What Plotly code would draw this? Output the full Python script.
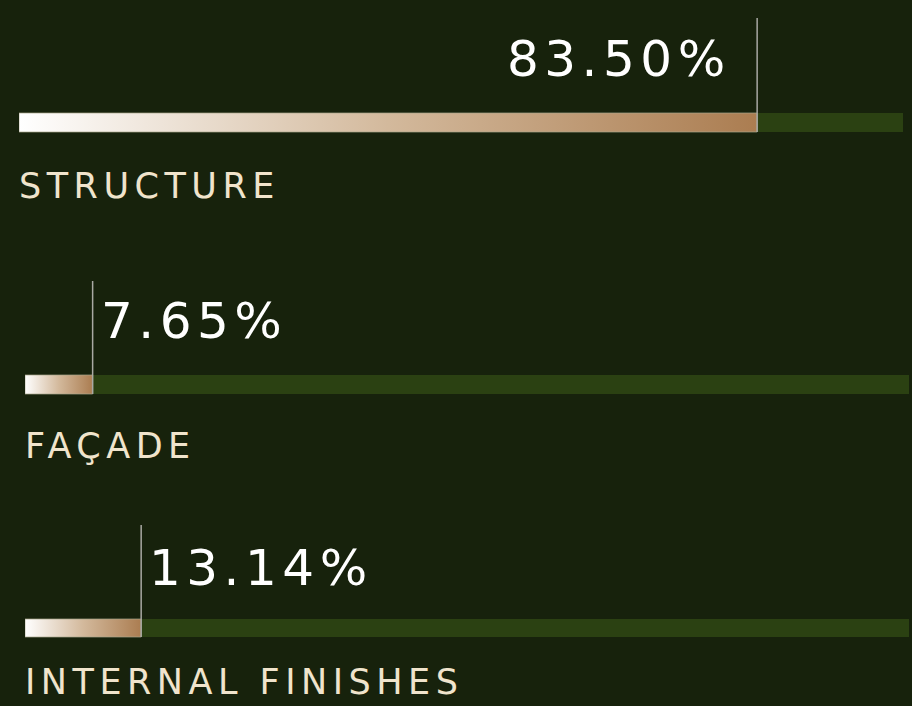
import plotly.graph_objects as go

categories = ["STRUCTURE", "FAÇADE", "INTERNAL FINISHES"]
values = [83.50, 7.65, 13.14]
value_labels = ["83.50%", "7.65%", "13.14%"]
max_value = 100

BG = "#17220c"
TRACK = "#2b4112"
GRAD = [[0, "#ffffff"], [0.5, "#d3b99c"], [1, "#ab7d51"]]
LINE = "#a9a9a4"
CREAM = "#f0e4cc"
FONT = "DejaVu Sans"
SPACING = 5.5  # px letter spacing applied to annotation text

W, H = 912, 706
# layout of rows (pixel positions)
rows = [
    dict(n="", x0=19, x1=903, bar=(113, 132), line_top=18, val_y=59, val_side="right", lab_y=186),
    dict(n="2", x0=25, x1=909, bar=(375, 394), line_top=281, val_y=321, val_side="left", lab_y=446),
    dict(n="3", x0=25, x1=909, bar=(619, 637), line_top=525, val_y=568, val_side="left", lab_y=682),
]

fig = go.Figure()
annotations = []
layout_axes = {}
for cat, v, lab, r in zip(categories, values, value_labels, rows):
    xa, ya = "x" + r["n"], "y" + r["n"]
    t, b = r["bar"]
    fig.add_trace(go.Scatter(x=[0, max_value, max_value, 0, 0], y=[t, t, b, b, t],
                             mode="lines", fill="toself", fillcolor=TRACK,
                             line=dict(width=0), xaxis=xa, yaxis=ya,
                             hoverinfo="skip", showlegend=False))
    fig.add_trace(go.Scatter(x=[0, v, v, 0, 0], y=[t, t, b, b, t],
                             mode="lines", fill="toself",
                             fillgradient=dict(type="horizontal", colorscale=GRAD),
                             line=dict(width=1, color="rgba(170,165,140,0.7)"),
                             xaxis=xa, yaxis=ya,
                             hoverinfo="skip", showlegend=False))
    fig.add_trace(go.Scatter(x=[v, v], y=[r["line_top"], b], mode="lines",
                             line=dict(color=LINE, width=1.5),
                             xaxis=xa, yaxis=ya,
                             hoverinfo="skip", showlegend=False))
    if r["val_side"] == "right":
        annotations.append(dict(x=v, y=r["val_y"], xref=xa, yref=ya, text=lab,
                                xanchor="right", align="right", yanchor="middle",
                                xshift=-30 + SPACING,
                                showarrow=False, font=dict(family=FONT, size=50, color="#ffffff")))
    else:
        annotations.append(dict(x=v, y=r["val_y"], xref=xa, yref=ya, text=lab,
                                xanchor="left", align="left", yanchor="middle", xshift=6,
                                showarrow=False, font=dict(family=FONT, size=50, color="#ffffff")))
    annotations.append(dict(x=0, y=r["lab_y"], xref=xa, yref=ya, text=cat,
                            xanchor="left", align="left", yanchor="middle", xshift=-2,
                            showarrow=False, font=dict(family=FONT, size=35, color=CREAM)))
    xname = "xaxis" + r["n"]
    yname = "yaxis" + r["n"]
    layout_axes[xname] = dict(domain=[r["x0"] / W, r["x1"] / W], range=[0, max_value],
                              anchor=ya, visible=False, fixedrange=True)
    layout_axes[yname] = dict(domain=[0, 1], range=[H, 0], anchor=xa,
                              visible=False, fixedrange=True)

fig.update_layout(
    width=W, height=H,
    margin=dict(l=0, r=0, t=0, b=0),
    paper_bgcolor=BG, plot_bgcolor="rgba(0,0,0,0)",
    annotations=annotations,
    hovermode=False,
    showlegend=False,
    **layout_axes,
)

post = (
    "document.body.style.margin='0';"
    "document.body.style.background='" + BG + "';"
    "document.querySelectorAll('.annotation-text').forEach(function(t){"
    "t.style.letterSpacing='" + str(SPACING) + "px';});"
)
fig.write_html("out.html", config={"displayModeBar": False}, post_script=post)
